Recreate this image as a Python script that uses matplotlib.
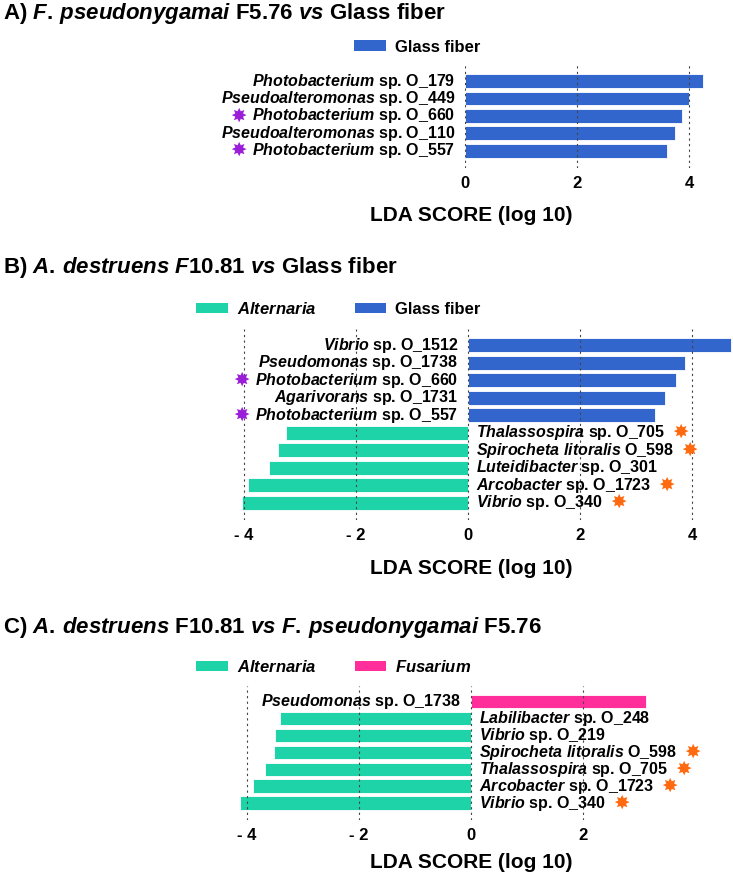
import matplotlib
matplotlib.use("Agg")
import matplotlib.pyplot as plt
from matplotlib.patches import Patch

plt.rcParams['font.family'] = ['Liberation Sans', 'DejaVu Sans']
plt.rcParams['font.weight'] = 'bold'
plt.rcParams['mathtext.fontset'] = 'custom'
plt.rcParams['mathtext.it'] = 'Liberation Sans:italic:bold'
plt.rcParams['mathtext.rm'] = 'Liberation Sans:bold'
plt.rcParams['mathtext.bf'] = 'Liberation Sans:bold'

BLUE = '#3366CC'
TEAL = '#1DD3A7'
PINK = '#FF2E9A'
PURPLE = '#9A1ED8'
ORANGE = '#FF6A10'

# A) F. pseudonygamai F5.76 vs Glass fiber
a_names = [r'$\mathit{Photobacterium}$ sp. O_179',
           r'$\mathit{Pseudoalteromonas}$ sp. O_449',
           r'$\mathit{Photobacterium}$ sp. O_660',
           r'$\mathit{Pseudoalteromonas}$ sp. O_110',
           r'$\mathit{Photobacterium}$ sp. O_557']
a_scores = [4.25, 4.00, 3.88, 3.75, 3.61]
a_stars = ['', '', 'p', '', 'p']

# B) A. destruens F10.81 vs Glass fiber
b_names = [r'$\mathit{Vibrio}$ sp. O_1512',
           r'$\mathit{Pseudomonas}$ sp. O_1738',
           r'$\mathit{Photobacterium}$ sp. O_660',
           r'$\mathit{Agarivorans}$ sp. O_1731',
           r'$\mathit{Photobacterium}$ sp. O_557',
           r'$\mathit{Thalassospira}$ sp. O_705',
           r'$\mathit{Spirocheta}$ $\mathit{litoralis}$ O_598',
           r'$\mathit{Luteidibacter}$ sp. O_301',
           r'$\mathit{Arcobacter}$ sp. O_1723',
           r'$\mathit{Vibrio}$ sp. O_340']
b_scores = [4.70, 3.87, 3.72, 3.51, 3.34, -3.25, -3.40, -3.56, -3.93, -4.04]
b_stars = ['', '', 'p', '', 'p', 'o', 'o', '', 'o', 'o']

# C) A. destruens F10.81 vs F. pseudonygamai F5.76
c_names = [r'$\mathit{Pseudomonas}$ sp. O_1738',
           r'$\mathit{Labilibacter}$ sp. O_248',
           r'$\mathit{Vibrio}$ sp. O_219',
           r'$\mathit{Spirocheta}$ $\mathit{litoralis}$ O_598',
           r'$\mathit{Thalassospira}$ sp. O_705',
           r'$\mathit{Arcobacter}$ sp. O_1723',
           r'$\mathit{Vibrio}$ sp. O_340']
c_scores = [3.12, -3.41, -3.50, -3.52, -3.67, -3.90, -4.13]
c_stars = ['', '', '', 'o', 'o', 'o', 'o']

W, H = 733, 880
PX = 56  # pixels per LDA unit

fig = plt.figure(figsize=(W / 100, H / 100), dpi=100)


def panel(names, scores, stars, zero_px, xlim, top_px, bottom_px, pos_color, ticks):
    left = zero_px + xlim[0] * PX
    width = (xlim[1] - xlim[0]) * PX
    ax = fig.add_axes([left / W, 1 - bottom_px / H, width / W, (bottom_px - top_px) / H])
    colors = [pos_color if s > 0 else TEAL for s in scores]
    ax.barh(range(len(scores)), scores, height=0.8, color=colors,
            edgecolor='white', linewidth=0.6, zorder=2)
    ax.set_xlim(xlim)
    ax.set_ylim(len(scores) - 1 + 1.0, -0.93)
    ticklabels = [('- %d' % -t) if t < 0 else '%d' % t for t in ticks]
    ax.set_xticks(ticks, ticklabels, fontsize=12, fontweight='bold')
    ax.set_yticks([])
    ax.tick_params(length=0, pad=6)
    for t in ticks:
        ax.axvline(t, color='#444444', lw=0.8, ls=(0, (2, 3)), zorder=3)
    for sp in ax.spines.values():
        sp.set_visible(False)
    for i, (name, s, st) in enumerate(zip(names, scores, stars)):
        lab = ax.annotate(name, xy=(0, i), xytext=(-7 if s > 0 else 6, 0),
                          textcoords='offset points',
                          ha='right' if s > 0 else 'left', va='center', fontsize=11.5)
        if st == 'p':
            ax.annotate('\u2738', xy=(0, 0.5), xycoords=lab, xytext=(-10, 0),
                        textcoords='offset points', ha='center', va='center',
                        color=PURPLE, fontsize=14, family='DejaVu Sans')
        elif st == 'o':
            ax.annotate('\u2738', xy=(1, 0.5), xycoords=lab, xytext=(11, 0),
                        textcoords='offset points', ha='center', va='center',
                        color=ORANGE, fontsize=14, family='DejaVu Sans')
    return ax


def legend(ax, handles, x_px, y_px):
    ax.legend(handles=handles, ncol=len(handles), loc='center left',
              bbox_to_anchor=(x_px / W, 1 - y_px / H), bbox_transform=fig.transFigure,
              frameon=False, prop={'size': 12, 'weight': 'bold'},
              handlelength=1.9, handleheight=0.6, handletextpad=0.55,
              columnspacing=2.3, borderpad=0, borderaxespad=0)


# panel A
ax_a = panel(a_names, a_scores, a_stars, 465, (0, 4.3), 65, 168, BLUE, [0, 2, 4])
legend(ax_a, [Patch(facecolor=BLUE, label='Glass fiber')], 354, 47)
fig.text(3 / W, 1 - 14 / H, r'A) $\mathit{F.\,pseudonygamai}$ F5.76 $\mathit{vs}$ Glass fiber',
         ha='left', va='center', fontsize=16)
fig.text(471 / W, 1 - 215 / H, 'LDA SCORE (log 10)', ha='center', va='center', fontsize=15)

# panel B
ax_b = panel(b_names, b_scores, b_stars, 468, (-4.12, 4.72), 329, 520, BLUE, [-4, -2, 0, 2, 4])
legend(ax_b, [Patch(facecolor=TEAL, label=r'$\mathit{Alternaria}$'),
              Patch(facecolor=BLUE, label='Glass fiber')], 196, 309)
fig.text(3 / W, 1 - 268 / H,
         r'B) $\mathit{A.\,destruens}$ $\mathit{F10.81}$ $\mathit{vs}$ Glass fiber',
         ha='left', va='center', fontsize=16)
fig.text(471 / W, 1 - 568 / H, 'LDA SCORE (log 10)', ha='center', va='center', fontsize=15)

# panel C
ax_c = panel(c_names, c_scores, c_stars, 471, (-4.25, 3.3), 686, 820, PINK, [-4, -2, 0, 2])
legend(ax_c, [Patch(facecolor=TEAL, label=r'$\mathit{Alternaria}$'),
              Patch(facecolor=PINK, label=r'$\mathit{Fusarium}$')], 196, 667)
fig.text(3 / W, 1 - 627 / H,
         r'C) $\mathit{A.\,destruens}$ F10.81 $\mathit{vs}$ $\mathit{F.\,pseudonygamai}$ F5.76',
         ha='left', va='center', fontsize=16)
fig.text(471 / W, 1 - 862 / H, 'LDA SCORE (log 10)', ha='center', va='center', fontsize=15)

fig.savefig('out.png', dpi=100)
